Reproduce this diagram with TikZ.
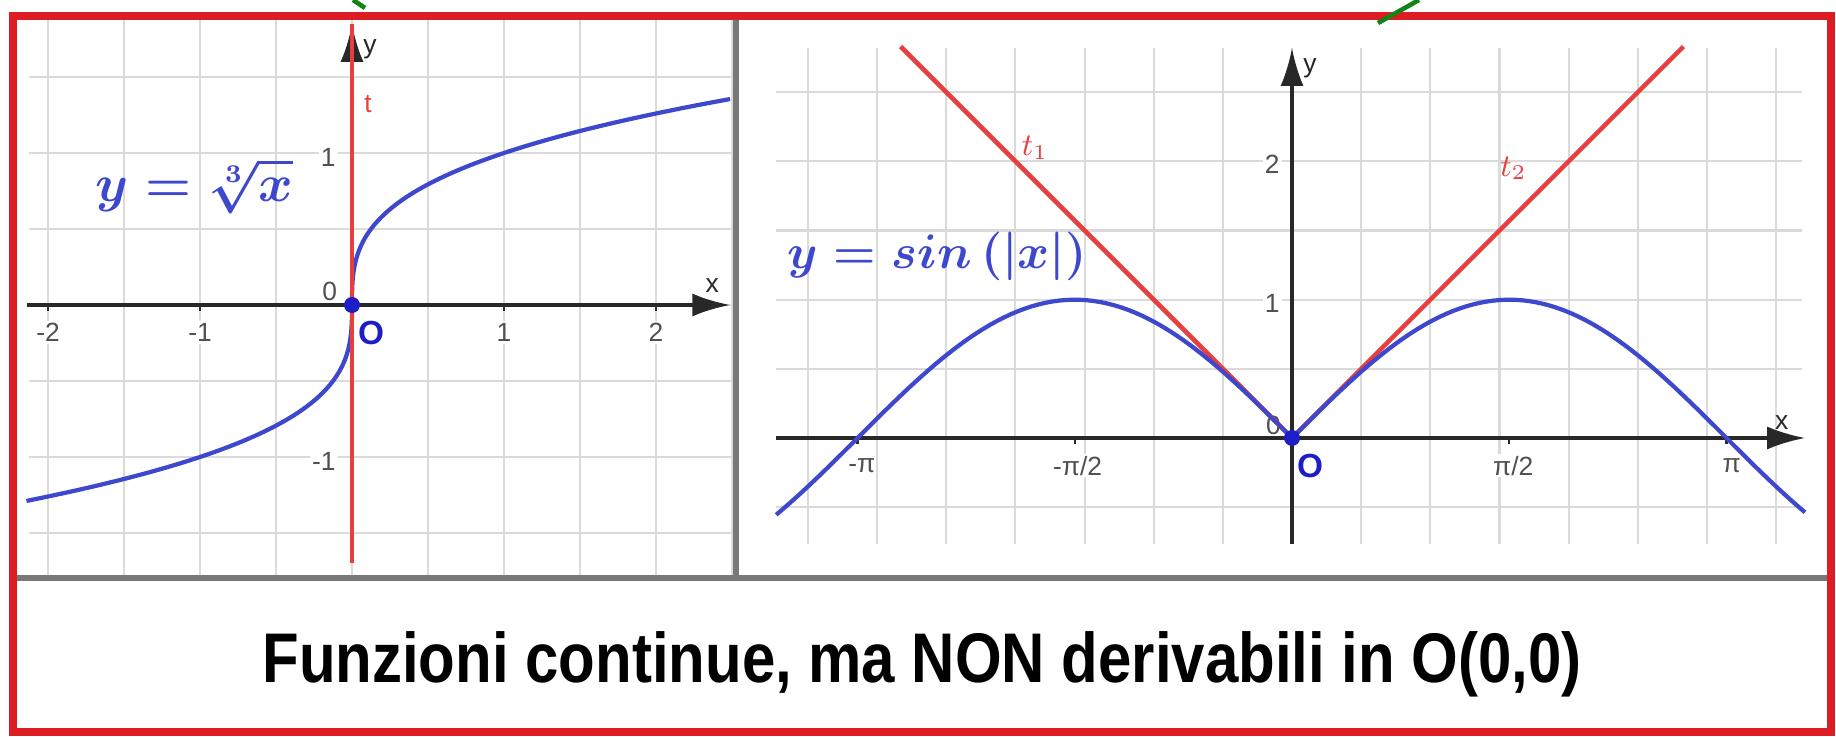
\documentclass[tikz,border=0pt]{standalone}
\usepackage[no-math]{fontspec}
\usepackage{amsmath}
\usepackage{tikz}
\usetikzlibrary{arrows.meta, positioning}
\newfontfamily\ggfont{Liberation Sans}
\definecolor{rossoCornice}{RGB}{222, 28, 36}
\definecolor{grigioCornice}{RGB}{120, 120, 120}
\definecolor{grigioGriglia}{RGB}{218, 218, 218}
\definecolor{neroAsse}{RGB}{40, 40, 40}
\definecolor{grigioTesto}{RGB}{80, 80, 80}
\definecolor{bluCurva}{RGB}{62, 72, 205}
\definecolor{bluPunto}{RGB}{30, 30, 200}
\definecolor{rossoTang}{RGB}{232, 62, 62}
\definecolor{verdeFreccia}{RGB}{20, 130, 20}

\begin{document}
\begin{tikzpicture}[
  griglia/.style={draw=grigioGriglia, line width=0.6pt},
  asse/.style={draw=neroAsse, line width=1.1pt,
    -{Latex[length=3.8mm, width=2.3mm]}},
  curva/.style={draw=bluCurva, line width=1.2pt},
  tangente/.style={draw=rossoTang, line width=1.3pt},
  punto/.style={circle, fill=bluPunto, inner sep=0pt, minimum size=1.6mm},
  etichetta/.style={font=\ggfont\fontsize{7.5}{8}\selectfont,
    text=grigioTesto, inner sep=0.6pt, fill=white},
  nomeO/.style={font=\ggfont\bfseries\fontsize{9.5}{10}\selectfont,
    text=bluPunto, inner sep=0pt},
  nomeT/.style={font=\fontsize{9}{10}\selectfont, text=rossoTang, inner sep=0pt},
  formula/.style={font=\boldmath\fontsize{14.4}{16}\selectfont,
    text=bluCurva, inner sep=0pt, anchor=base west},
]
\fill[white] (0,0) rectangle (18.36,7.36);
\useasboundingbox (0,0) rectangle (18.36,7.36);

% --- radice cubica
\begin{scope}[shift={(3.52,4.31)}, x=1.52cm, y=1.52cm]
  \foreach \i in {-2,-1.5,...,2.5}
    \draw[griglia] (\i,-1.78) -- (\i,1.88);
  \foreach \j in {-1.5,-1,...,1.5}
    \draw[griglia] (-2.125,\j) -- (2.5,\j);
  \draw[asse] (-2.14,0) -- (2.49,0);
  \draw[asse] (0,-1.70) -- (0,1.85);
  \foreach \k in {-2,-1,1,2}
    \draw[neroAsse, line width=0.6pt] (\k,0) -- (\k,-0.04);
  \node[etichetta] (xa2) at (-2,-0.18) {-2};
  \node[etichetta] (xa1) at (-1,-0.18) {-1};
  \node[etichetta] (xb1) at (1,-0.18) {1};
  \node[etichetta] (xb2) at (2,-0.18) {2};
  \node[etichetta, anchor=east] (yb1) at (-0.09,0.97) {1};
  \node[etichetta, anchor=east] (ya1) at (-0.09,-1.03) {-1};
  \node[etichetta, anchor=east] (y0) at (-0.08,0.09) {0};
  \node[etichetta, fill=none, text=neroAsse] (xs) at (2.37,0.125) {x};
  \node[etichetta, fill=none, text=neroAsse] (ys) at (0.118,1.68) {y};
  \draw[curva, domain=-1.289:1.355, samples=120, variable=\t]
    plot ({\t*\t*\t}, \t);
  \draw[tangente] (0,-1.70) -- (0,1.85);
  \node[etichetta, fill=none, text=rossoTang] (tl) at (0.105,1.32) {t};
  \node[punto] (O1) at (0,0) {};
  \node[nomeO] (lO1) at (0.125,-0.184) {O};
\end{scope}
\node[formula] (fRad) at (0.95,5.34) {\scalebox{1.04}{$y=\sqrt[3]{x}$}};

% --- seno del valore assoluto
\begin{scope}[shift={(12.92,2.98)}, x=1.383cm, y=1.383cm]
  \foreach \i in {-3.5,-3,...,3.5}
    \draw[griglia] (\i,-0.77) -- (\i,2.82);
  \foreach \j in {-0.5,0,...,2.5}
    \draw[griglia] (-3.73,\j) -- (3.69,\j);
  \draw[asse, line width=0.9pt] (-3.73,0) -- (3.71,0);
  \draw[asse, line width=0.9pt] (0,-0.77) -- (0,2.82);
  \foreach \k in {-3.1416,-1.5708,1.5708,3.1416}
    \draw[neroAsse, line width=0.6pt] (\k,0) -- (\k,-0.04);
  \node[etichetta, anchor=east] (yb2) at (-0.07,1.98) {2};
  \node[etichetta, anchor=east] (yb1r) at (-0.07,0.97) {1};
  \node[etichetta, anchor=east, fill=none] (y0r) at (-0.06,0.09) {0};
  \node[etichetta, fill=none] (mpi) at (-3.11,-0.2) {-π};
  \node[etichetta] (mpi2) at (-1.55,-0.2) {-π/2};
  \node[etichetta] (ppi2) at (1.60,-0.2) {π/2};
  \node[etichetta, fill=none] (ppi) at (3.18,-0.2) {π};
  \node[etichetta, fill=none, text=neroAsse] (xsr) at (3.54,0.11) {x};
  \node[etichetta, fill=none, text=neroAsse] (ysr) at (0.13,2.67) {y};
  \draw[tangente] (0,0) -- (-2.83,2.83);
  \draw[tangente] (0,0) -- (2.83,2.83);
  \draw[curva, domain=-3.73:3.71, samples=150]
    plot (\x, {sin(abs(\x) r)});
  \node[nomeT] (t1) at (-1.86,2.10) {$t_1$};
  \node[nomeT] (t2) at (1.60,1.95) {$t_2$};
  \node[punto] (O2) at (0,0) {};
  \node[nomeO] (lO2) at (0.13,-0.2) {O};
\end{scope}
\node[formula] (fSen) at (7.87,4.67) {\scalebox{0.96}{$y=sin\,(|x|)$}};

% --- cornice
\draw[grigioCornice, line width=1.7pt] (0.13,1.58) -- (18.31,1.58);
\draw[grigioCornice, line width=1.7pt] (7.36,1.58) -- (7.36,7.20);
\draw[rossoCornice, line width=2.4pt] (0.13,0.04) rectangle (18.31,7.20);
\draw[verdeFreccia, line width=1.3pt] (3.53,7.36) -- (3.65,7.28);
\draw[verdeFreccia, line width=1.3pt] (13.78,7.13) -- (14.19,7.36);

\node[anchor=base] (titolo) at (9.22,0.54)
  {\scalebox{0.853}[1]{\ggfont\bfseries\fontsize{20}{24}\selectfont
   Funzioni continue, ma NON derivabili in O(0,0)}};
\end{tikzpicture}
\end{document}
